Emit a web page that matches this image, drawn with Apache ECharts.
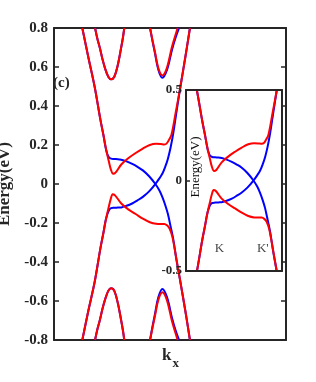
<!DOCTYPE html>
<html><head><meta charset="utf-8">
<style>html,body{margin:0;padding:0;background:#fff}#c{width:316px;height:382px}</style>
<script src="https://cdn.jsdelivr.net/npm/echarts@6/dist/echarts.min.js"></script>
</head><body><div id="c"></div>
<script>
// ---- data (k in arbitrary units, E in eV) ----
var yTicksMain = [-0.8, -0.6, -0.4, -0.2, 0, 0.2, 0.4, 0.6, 0.8];
var yTicksInset = [-0.5, 0, 0.5];
var kRangeMain = [0, 1];
var kRangeInset = [0.125, 0.569];

var blueA = [[0.122,0.8],[0.148,0.65],[0.175,0.5],[0.2,0.33],[0.213,0.251],[0.222,0.19],[0.228,0.16],[0.236,0.138],[0.246,0.13],[0.26,0.128],[0.275,0.127],[0.29,0.124],[0.31,0.117],[0.337,0.103],[0.36,0.088],[0.383,0.07],[0.41,0.04],[0.437,0.0],[0.455,-0.035],[0.468,-0.07],[0.48,-0.11],[0.491,-0.154],[0.503,-0.22],[0.514,-0.283],[0.528,-0.39],[0.545,-0.504],[0.566,-0.65],[0.586,-0.8]];
var blueB = [[0.122,-0.8],[0.148,-0.65],[0.175,-0.504],[0.2,-0.33],[0.213,-0.25],[0.222,-0.19],[0.23,-0.155],[0.238,-0.132],[0.246,-0.124],[0.26,-0.122],[0.275,-0.121],[0.29,-0.12],[0.31,-0.113],[0.337,-0.1],[0.36,-0.084],[0.383,-0.066],[0.41,-0.038],[0.437,0.0],[0.455,0.03],[0.468,0.055],[0.48,0.09],[0.491,0.13],[0.503,0.19],[0.514,0.26],[0.528,0.37],[0.545,0.5],[0.566,0.65],[0.586,0.8]];
var redUp = [[0.122,0.8],[0.148,0.65],[0.175,0.5],[0.2,0.33],[0.213,0.251],[0.225,0.175],[0.236,0.118],[0.245,0.075],[0.255,0.052],[0.265,0.058],[0.29,0.1],[0.32,0.132],[0.352,0.159],[0.383,0.182],[0.413,0.2],[0.44,0.206],[0.46,0.205],[0.475,0.203],[0.485,0.207],[0.495,0.225],[0.506,0.251],[0.525,0.37],[0.545,0.5],[0.566,0.65],[0.586,0.8]];
var redDown = [[0.122,-0.8],[0.148,-0.65],[0.175,-0.504],[0.2,-0.33],[0.213,-0.251],[0.225,-0.175],[0.236,-0.118],[0.245,-0.075],[0.253,-0.052],[0.263,-0.058],[0.29,-0.1],[0.32,-0.13],[0.352,-0.154],[0.383,-0.178],[0.413,-0.196],[0.44,-0.204],[0.46,-0.205],[0.475,-0.205],[0.487,-0.212],[0.498,-0.228],[0.51,-0.27],[0.527,-0.38],[0.545,-0.504],[0.566,-0.65],[0.586,-0.8]];
var parab1Up = [[0.177,0.8],[0.187,0.745],[0.198,0.696],[0.209,0.64],[0.22,0.593],[0.234,0.55],[0.246,0.537],[0.26,0.55],[0.275,0.61],[0.289,0.696],[0.297,0.75],[0.303,0.8]];
var parab1Down = [[0.177,-0.8],[0.187,-0.745],[0.198,-0.696],[0.209,-0.64],[0.22,-0.593],[0.234,-0.548],[0.246,-0.535],[0.26,-0.548],[0.275,-0.61],[0.289,-0.696],[0.297,-0.75],[0.303,-0.8]];
var parab2UpRed = [[0.414,0.8],[0.425,0.735],[0.435,0.678],[0.45,0.593],[0.467,0.557],[0.486,0.593],[0.507,0.696],[0.52,0.75],[0.533,0.8]];
var parab2UpBlue = [[0.414,0.8],[0.425,0.73],[0.435,0.672],[0.45,0.585],[0.467,0.545],[0.487,0.585],[0.509,0.69],[0.524,0.75],[0.539,0.8]];
var parab2DownRed = [[0.414,-0.8],[0.425,-0.735],[0.435,-0.678],[0.45,-0.593],[0.467,-0.555],[0.486,-0.593],[0.507,-0.696],[0.52,-0.75],[0.533,-0.8]];
var parab2DownBlue = [[0.414,-0.8],[0.425,-0.728],[0.435,-0.668],[0.45,-0.58],[0.467,-0.538],[0.487,-0.58],[0.509,-0.688],[0.524,-0.75],[0.539,-0.8]];
var kLabels = [{name:'K', k:0.280, e:-0.376}, {name:"K'", k:0.480, e:-0.376}];

var FF = "'Liberation Serif','Times New Roman',serif";
var AX = '#262626';
var BLUE = '#0000ff', RED = '#ff0000';

function ln(data, color, xi, yi) {
  return {type:'line', data:data, xAxisIndex:xi, yAxisIndex:yi, smooth:0.35, symbol:'none',
    lineStyle:{color:color, width:2}, silent:true, animation:false, clip:true, z: color===RED?4:3};
}

var series = [];
[[blueA,BLUE],[blueB,BLUE],[parab1Up,BLUE],[parab1Down,BLUE],[parab2UpBlue,BLUE],[parab2DownBlue,BLUE],
 [redUp,RED],[redDown,RED],[parab1Up,RED],[parab1Down,RED],[parab2UpRed,RED],[parab2DownRed,RED]].forEach(function(p){
  series.push(ln(p[0],p[1],0,0));
});
[[blueA,BLUE],[blueB,BLUE],[redUp,RED],[redDown,RED]].forEach(function(p){
  var s = ln(p[0],p[1],1,2); s.z = p[1]===RED?8:7; series.push(s);
});
series.push({type:'scatter', xAxisIndex:1, yAxisIndex:2, symbolSize:0, z:9, silent:true, animation:false,
  data: kLabels.map(function(d){return {value:[d.k,d.e], name:d.name};}),
  label:{show:true, position:'inside', formatter:'{b}', color:'#111', fontFamily:FF, fontSize:13}});

var yMain = yTicksMain;
var option = {
  backgroundColor:'#fff',
  animation:false,
  grid:[
    {left:54, top:28, width:232, height:312, show:false, containLabel:false, outerBoundsMode:'none'},
    {left:186, top:90, width:96, height:181, show:true, backgroundColor:'#fff', borderWidth:0, z:5, containLabel:false, outerBoundsMode:'none'}
  ],
  xAxis:[
    {type:'value', gridIndex:0, min:kRangeMain[0], max:kRangeMain[1], position:'bottom',
     axisLine:{show:true, onZero:false, lineStyle:{color:AX, width:2}}, axisTick:{show:false},
     axisLabel:{show:false}, splitLine:{show:false}},
    {type:'value', gridIndex:1, min:kRangeInset[0], max:kRangeInset[1], position:'bottom', z:10,
     axisLine:{show:true, onZero:false, lineStyle:{color:AX, width:2}}, axisTick:{show:false},
     axisLabel:{show:false}, splitLine:{show:false}},
    {type:'value', gridIndex:0, min:kRangeMain[0], max:kRangeMain[1], position:'top',
     axisLine:{show:true, onZero:false, lineStyle:{color:AX, width:2}}, axisTick:{show:false},
     axisLabel:{show:false}, splitLine:{show:false}},
    {type:'value', gridIndex:1, min:kRangeInset[0], max:kRangeInset[1], position:'top', z:10,
     axisLine:{show:true, onZero:false, lineStyle:{color:AX, width:2}}, axisTick:{show:false},
     axisLabel:{show:false}, splitLine:{show:false}}
  ],
  yAxis:[
    {type:'value', gridIndex:0, min:yMain[0], max:yMain[yMain.length-1], interval:0.2, position:'left',
     name:'Energy(eV)', nameLocation:'middle', nameGap:33,
     nameTextStyle:{fontFamily:FF, fontWeight:'bold', fontSize:17, color:AX},
     axisLine:{show:true, onZero:false, lineStyle:{color:AX, width:2}},
     axisTick:{show:true, inside:true, length:5, lineStyle:{color:AX, width:1.5}},
     axisLabel:{margin:6, fontFamily:FF, fontWeight:'bold', fontSize:15, color:AX,
       formatter:function(v){return String(Math.round(v*10)/10);}},
     splitLine:{show:false}},
    {type:'value', gridIndex:0, min:yMain[0], max:yMain[yMain.length-1], interval:0.2, position:'right',
     axisLine:{show:true, onZero:false, lineStyle:{color:AX, width:2}},
     axisTick:{show:true, inside:true, length:5, lineStyle:{color:AX, width:1.5}},
     axisLabel:{show:false}, splitLine:{show:false}},
    {type:'value', gridIndex:1, min:yTicksInset[0], max:yTicksInset[yTicksInset.length-1], interval:0.5, position:'left', z:10,
     axisLine:{show:true, onZero:false, lineStyle:{color:AX, width:2}},
     axisTick:{show:true, inside:true, length:4, lineStyle:{color:AX, width:1.5}},
     axisLabel:{margin:4, fontFamily:FF, fontWeight:'bold', fontSize:13, color:AX,
       formatter:function(v){return String(Math.round(v*10)/10);}},
     splitLine:{show:false}},
    {type:'value', gridIndex:1, min:yTicksInset[0], max:yTicksInset[yTicksInset.length-1], interval:0.5, position:'right', z:10,
     axisLine:{show:true, onZero:false, lineStyle:{color:AX, width:2}},
     axisTick:{show:false}, axisLabel:{show:false}, splitLine:{show:false}}
  ],
  graphic:[
    {type:'text', left:53, top:76, z:20, style:{text:'(c)', font:"bold 15px "+FF, fill:AX}},
    {type:'text', left:162, top:347, z:20, style:{text:'k', font:"bold 17px "+FF, fill:AX}},
    {type:'text', left:172.5, top:357, z:20, style:{text:'x', font:"bold 13px "+FF, fill:AX}},
    {type:'text', x:196, y:167, rotation:Math.PI/2, z:20,
     style:{text:'Energy(eV)', font:"13px "+FF, fill:'#111', align:'center', verticalAlign:'middle'}}
  ],
  series: series
};
var chart = echarts.init(document.getElementById('c'), null, {renderer:'canvas'});
chart.setOption(option);
</script></body></html>
